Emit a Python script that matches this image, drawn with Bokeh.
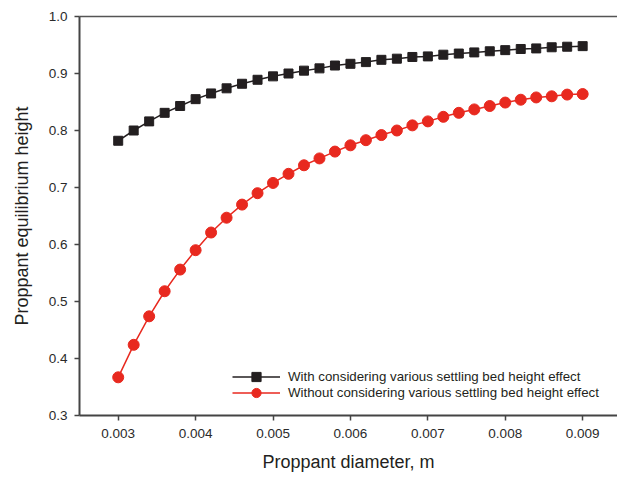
from bokeh.plotting import figure
from bokeh.models import (LinearAxis, FixedTicker, NumeralTickFormatter, Legend,
                          LegendItem, Range1d)
from bokeh.embed import file_html
from bokeh.resources import INLINE

# ---- data ----
diameter = [0.0030, 0.0032, 0.0034, 0.0036, 0.0038, 0.0040, 0.0042, 0.0044,
            0.0046, 0.0048, 0.0050, 0.0052, 0.0054, 0.0056, 0.0058, 0.0060,
            0.0062, 0.0064, 0.0066, 0.0068, 0.0070, 0.0072, 0.0074, 0.0076,
            0.0078, 0.0080, 0.0082, 0.0084, 0.0086, 0.0088, 0.0090]

with_effect = [0.782, 0.800, 0.816, 0.831, 0.843, 0.855, 0.865, 0.874,
               0.882, 0.889, 0.895, 0.900, 0.905, 0.909, 0.914, 0.917,
               0.920, 0.924, 0.926, 0.929, 0.930, 0.933, 0.935, 0.937,
               0.939, 0.941, 0.943, 0.944, 0.946, 0.947, 0.948]

without_effect = [0.367, 0.424, 0.474, 0.518, 0.556, 0.590, 0.621, 0.647,
                  0.670, 0.690, 0.708, 0.724, 0.739, 0.751, 0.763, 0.774,
                  0.783, 0.792, 0.800, 0.809, 0.816, 0.824, 0.831, 0.837,
                  0.843, 0.849, 0.854, 0.858, 0.860, 0.863, 0.864]

x_ticks = [0.003, 0.004, 0.005, 0.006, 0.007, 0.008, 0.009]
y_ticks = [0.3, 0.4, 0.5, 0.6, 0.7, 0.8, 0.9, 1.0]

label_with = "With considering various settling bed height effect"
label_without = "Without considering various settling bed height effect"
x_title = "Proppant diameter, m"
y_title = "Proppant equilibrium height"

# ---- styling ----
FONT = "Liberation Sans"
BLACK = "#231f20"
RED = "#e8291f"
AXIS = "#444444"

p = figure(width=617, height=477, output_backend="svg", toolbar_location=None,
           x_range=Range1d(0.0025, 0.00945), y_range=Range1d(0.3, 1.0),
           min_border_left=79, min_border_right=0, min_border_top=16,
           min_border_bottom=62, x_axis_label=x_title, y_axis_label=y_title)
p.grid.visible = False
p.outline_line_color = None
p.background_fill_color = "white"
p.border_fill_color = "white"

for ax in (p.xaxis[0], p.yaxis[0]):
    ax.axis_line_color = AXIS
    ax.axis_line_width = 2
    ax.major_tick_line_color = AXIS
    ax.major_tick_line_width = 1.5
    ax.major_tick_in = 0
    ax.major_tick_out = 5
    ax.minor_tick_line_color = None
    ax.major_label_text_font = FONT
    ax.major_label_text_font_size = "13.5px"
    ax.major_label_text_color = "#2a2a2a"
    ax.axis_label_text_font = FONT
    ax.axis_label_text_font_size = "18px"
    ax.axis_label_text_font_style = "normal"
    ax.axis_label_text_color = BLACK

p.xaxis[0].ticker = FixedTicker(ticks=x_ticks)
p.xaxis[0].formatter = NumeralTickFormatter(format="0.000")
p.xaxis[0].major_label_standoff = 8
p.xaxis[0].axis_label_standoff = 11

p.yaxis[0].ticker = FixedTicker(ticks=y_ticks)
p.yaxis[0].formatter = NumeralTickFormatter(format="0.0")
p.yaxis[0].major_label_standoff = 7
p.yaxis[0].axis_label_standoff = 14

top = LinearAxis(ticker=FixedTicker(ticks=[]), axis_line_color="#555555",
                 axis_line_width=1.5, major_tick_line_color=None,
                 minor_tick_line_color=None, major_label_text_font_size="0px")
p.add_layout(top, "above")

l1 = p.line(diameter, with_effect, line_color=BLACK, line_width=1.5)
s1 = p.scatter(diameter, with_effect, marker="square", size=9,
               fill_color=BLACK, line_color=BLACK)
l2 = p.line(diameter, without_effect, line_color=RED, line_width=1.5)
s2 = p.scatter(diameter, without_effect, marker="circle", size=11,
               fill_color=RED, line_color=RED)

legend_style = dict(orientation="vertical", border_line_color=None,
                    background_fill_alpha=0, padding=0, margin=0, spacing=0,
                    glyph_width=48, glyph_height=23, label_height=14,
                    label_standoff=8, label_text_font=FONT,
                    label_text_font_size="13.3px", label_text_color=BLACK)

legend1 = Legend(items=[LegendItem(label=label_with, renderers=[l1, s1])],
                 location=(153, 27), **legend_style)
legend2 = Legend(items=[LegendItem(label=label_without, renderers=[l2, s2])],
                 location=(153, 11), **legend_style)
p.add_layout(legend1)
p.add_layout(legend2)

open("out.html", "w").write(file_html(p, INLINE))
